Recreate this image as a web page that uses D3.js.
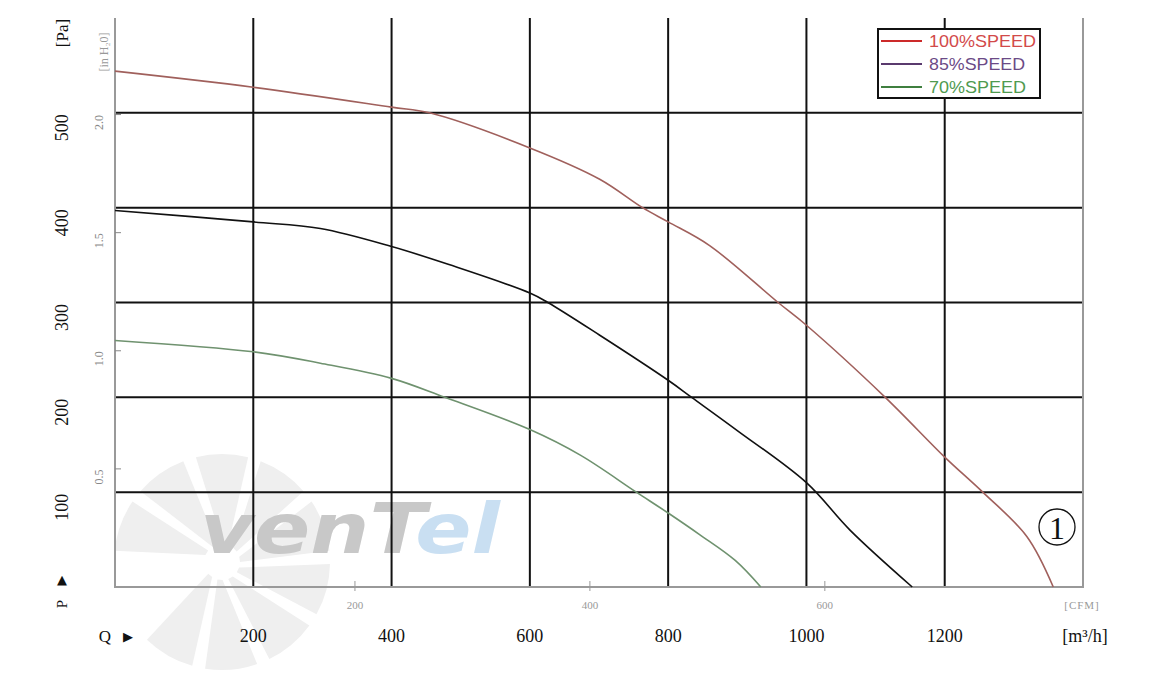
<!DOCTYPE html>
<html><head><meta charset="utf-8">
<script src="https://cdn.jsdelivr.net/npm/d3@7"></script>
<style>html,body{margin:0;padding:0;background:#fff;}svg{display:block;}</style>
</head><body>
<svg id="c" width="1159" height="683"></svg>
<script>
const flowTicks = [200, 400, 600, 800, 1000, 1200];
const pressureTicks = [100, 200, 300, 400, 500];
const inH2OTicks = [0.5, 1.0, 1.5, 2.0];
const cfmTicks = [200, 400, 600];
const seriesNames = ["100%SPEED", "85%SPEED", "70%SPEED"];
const q100 = [0, 200, 400, 455, 600, 701, 763, 800, 860, 959, 1000, 1114, 1200, 1255, 1319, 1357];
const p100 = [544, 527, 506, 500, 463, 430, 400, 385, 360, 300, 276, 200, 137, 100, 53, 0];
const q85 = [0, 200, 297, 400, 483, 600, 626, 700, 800, 834, 900, 1000, 1063, 1153];
const p85 = [397, 385, 378, 359, 340, 310, 300, 266, 218, 200, 165, 110, 60, 0];
const q70 = [0, 200, 297, 400, 477, 600, 673, 754, 800, 846, 897, 934];
const p70 = [260, 248, 236, 220, 200, 166, 139, 100, 78, 55, 28, 0];

const svg = d3.select("#c");
const L = 115, R = 1083, T = 18, B = 587;
const x = d3.scaleLinear().domain([0, 1400]).range([L, R]);
const y = d3.scaleLinear().domain([0, 600]).range([B, T]);
const serif = "'Liberation Serif', 'DejaVu Serif', serif";

// watermark fan
const wm = svg.append("g");
const cx = 222, cy = 562;
const bladeAngles = [-160, -125, -90, -55, -20, 15, 50, 85, 120];
bladeAngles.forEach(a => {
  const r1 = 18, r2 = 108;
  const a0 = (a - 14) * Math.PI / 180, a1 = (a + 14) * Math.PI / 180;
  const p = d3.path();
  p.moveTo(cx + r1 * Math.cos(a0 + 0.3), cy + r1 * Math.sin(a0 + 0.3));
  p.lineTo(cx + r2 * Math.cos(a0), cy + r2 * Math.sin(a0));
  p.arc(cx, cy, r2, a0, a1, false);
  p.lineTo(cx + r1 * Math.cos(a1 + 0.1), cy + r1 * Math.sin(a1 + 0.1));
  p.closePath();
  wm.append("path").attr("d", p.toString()).attr("fill", "#efefef");
});
const wt = wm.append("text").attr("x", 200).attr("y", 553)
  .attr("font-family", "'DejaVu Sans', sans-serif").attr("font-weight", "bold")
  .attr("font-style", "italic").attr("font-size", 70)
  .attr("textLength", 300).attr("lengthAdjust", "spacingAndGlyphs");
wt.append("tspan").attr("fill", "#c8c8c8").text("venT");
wt.append("tspan").attr("fill", "#c9dff2").text("el");

// grid
const grid = svg.append("g");
grid.selectAll("line.v").data(flowTicks).join("line")
  .attr("x1", d => x(d)).attr("x2", d => x(d)).attr("y1", T).attr("y2", B)
  .attr("stroke", "#111").attr("stroke-width", 2);
grid.selectAll("line.h").data(pressureTicks).join("line")
  .attr("x1", L).attr("x2", R).attr("y1", d => y(d)).attr("y2", d => y(d))
  .attr("stroke", "#111").attr("stroke-width", 2);

// frame
svg.append("path").attr("d", `M${L},${T}V${B}H${R}V${T}`)
  .attr("fill", "none").attr("stroke", "#999").attr("stroke-width", 2);

// curves
const colors = ["#a0605c", "#111111", "#6f926f"];
const line = d3.line().x(d => x(d[0])).y(d => y(d[1])).curve(d3.curveCatmullRom.alpha(0.5));
const sets = [[q100, p100], [q85, p85], [q70, p70]];
sets.forEach((s, i) => {
  svg.append("path").datum(s[0].map((q, k) => [q, s[1][k]]))
    .attr("d", line).attr("fill", "none").attr("stroke", colors[i]).attr("stroke-width", 1.6);
});

// Y axis labels (Pa)
svg.selectAll("text.pa").data(pressureTicks).join("text")
  .attr("transform", d => `translate(68,${y(d) + 15}) rotate(-90)`)
  .attr("text-anchor", "middle").attr("font-family", serif).attr("font-size", 18)
  .attr("fill", "#111").text(d => d);
svg.append("text").attr("transform", "translate(68,33) rotate(-90)")
  .attr("text-anchor", "middle").attr("font-family", serif).attr("font-size", 17)
  .attr("fill", "#111").text("[Pa]");

// inH2O axis
const PA_PER_INH2O = 249.09;
svg.selectAll("line.inh").data(inH2OTicks).join("line")
  .attr("x1", L).attr("x2", L + 6).attr("y1", d => y(d * PA_PER_INH2O)).attr("y2", d => y(d * PA_PER_INH2O))
  .attr("stroke", "#888").attr("stroke-width", 1);
svg.selectAll("text.inh").data(inH2OTicks).join("text")
  .attr("transform", d => `translate(103,${y(d * PA_PER_INH2O) + 8}) rotate(-90)`)
  .attr("text-anchor", "middle").attr("font-family", serif).attr("font-size", 12)
  .attr("fill", "#888").text(d => d.toFixed(1));
svg.append("text").attr("transform", "translate(108,52) rotate(-90)")
  .attr("text-anchor", "middle").attr("font-family", serif).attr("font-size", 12)
  .attr("fill", "#999").text("[in H₂0]");

// P marker
svg.append("text").attr("x", 62).attr("y", 584).attr("text-anchor", "middle")
  .attr("font-family", "'DejaVu Sans', sans-serif").attr("font-size", 13).attr("fill", "#111").text("▲");
svg.append("text").attr("transform", "translate(67,604) rotate(-90)")
  .attr("text-anchor", "middle").attr("font-family", serif).attr("font-size", 15)
  .attr("fill", "#111").text("P");

// X axis labels (m3/h)
svg.selectAll("text.q").data(flowTicks).join("text")
  .attr("x", d => x(d)).attr("y", 642).attr("text-anchor", "middle")
  .attr("font-family", serif).attr("font-size", 18).attr("fill", "#111").text(d => d);
svg.append("text").attr("x", 1085).attr("y", 642).attr("text-anchor", "middle")
  .attr("font-family", serif).attr("font-size", 18).attr("fill", "#111").text("[m³/h]");
svg.append("text").attr("x", 105).attr("y", 642).attr("text-anchor", "middle")
  .attr("font-family", serif).attr("font-size", 17).attr("fill", "#111").text("Q");
svg.append("text").attr("x", 128).attr("y", 641).attr("text-anchor", "middle")
  .attr("font-family", "'DejaVu Sans', sans-serif").attr("font-size", 13).attr("fill", "#111").text("▶");

// CFM axis
const M3H_PER_CFM = 1.699;
svg.selectAll("line.cfm").data(cfmTicks).join("line")
  .attr("x1", d => x(d * M3H_PER_CFM) + 5).attr("x2", d => x(d * M3H_PER_CFM) + 5)
  .attr("y1", B - 6).attr("y2", B + 4).attr("stroke", "#999").attr("stroke-width", 1);
svg.selectAll("text.cfm").data(cfmTicks).join("text")
  .attr("x", d => x(d * M3H_PER_CFM) + 5).attr("y", 609).attr("text-anchor", "middle")
  .attr("font-family", serif).attr("font-size", 11).attr("fill", "#999").text(d => d);
svg.append("text").attr("x", 1082).attr("y", 609).attr("text-anchor", "middle")
  .attr("font-family", serif).attr("font-size", 11).attr("fill", "#999")
  .attr("letter-spacing", 1).text("[CFM]");

// legend
const lg = svg.append("g");
lg.append("rect").attr("x", 878).attr("y", 29).attr("width", 162).attr("height", 69)
  .attr("fill", "#fff").attr("stroke", "#111").attr("stroke-width", 2);
const legLine = ["#cc2a2a", "#5a3a6e", "#3f7f3f"];
const legText = ["#d24a4a", "#6b4a86", "#4f9a4f"];
const legLen = [107, 96, 97];
seriesNames.forEach((n, i) => {
  const yy = 41 + i * 23;
  lg.append("line").attr("x1", 881).attr("x2", 922).attr("y1", yy).attr("y2", yy)
    .attr("stroke", legLine[i]).attr("stroke-width", 2);
  lg.append("text").attr("x", 929).attr("y", yy + 6).attr("font-family", "'Liberation Sans', Arial, sans-serif")
    .attr("font-size", 16.5).attr("textLength", legLen[i]).attr("lengthAdjust", "spacingAndGlyphs")
    .attr("fill", legText[i]).text(n);
});

// circled 1
svg.append("circle").attr("cx", 1057).attr("cy", 527).attr("r", 18)
  .attr("fill", "none").attr("stroke", "#111").attr("stroke-width", 1.3);
svg.append("text").attr("x", 1057).attr("y", 539).attr("text-anchor", "middle")
  .attr("font-family", serif).attr("font-size", 32).attr("fill", "#111").text("1");
</script>
</body></html>
